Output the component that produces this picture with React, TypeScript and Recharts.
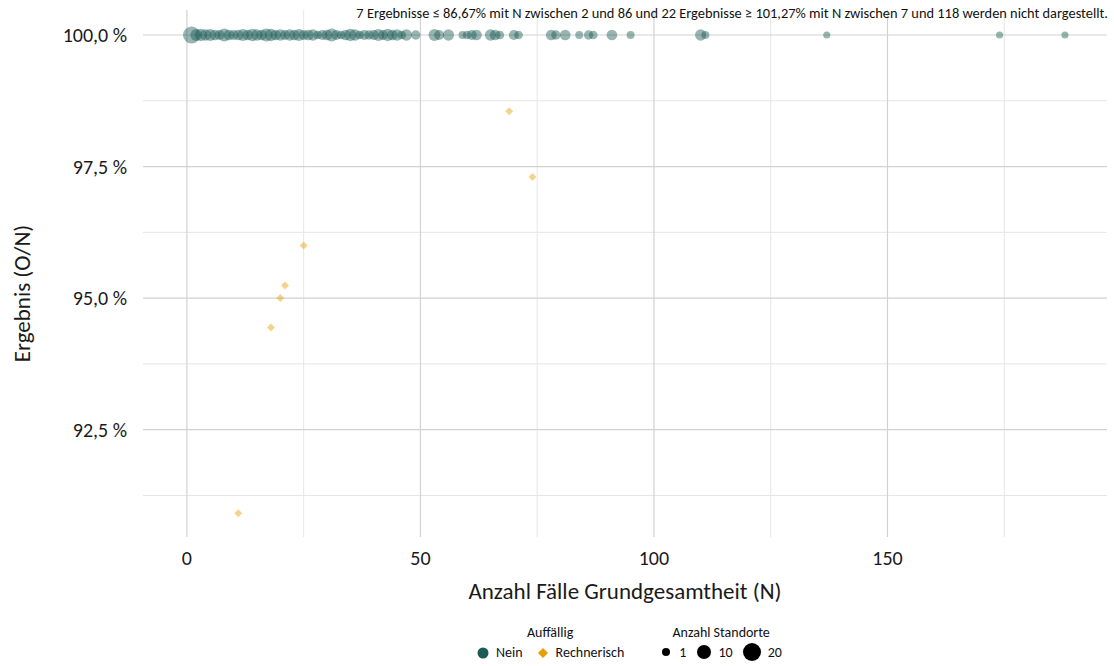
import { ScatterChart, Scatter, XAxis, YAxis, ZAxis, ReferenceLine } from 'recharts';

// Nein (nicht auffällig): N und Anzahl Standorte, alle bei 100 %
const neinN = [1, 2, 3, 4, 5, 6, 7, 8, 9, 10, 11, 12, 13, 14, 15, 16, 17, 18, 19, 20, 21, 22, 23, 24, 25, 26, 27, 28, 29, 30, 31, 32, 33, 34, 35, 36, 37, 38, 39, 40, 41, 42, 43, 44, 45, 46, 47, 49, 53, 54, 56, 59, 60, 61, 62, 65, 66, 67, 70, 71, 78, 79, 81, 84, 86, 87, 91, 95, 110, 111, 137, 174, 188];
const neinStandorte = [20, 8, 9, 7, 8, 6, 5, 10, 6, 5, 6, 8, 6, 9, 7, 6, 10, 9, 6, 7, 5, 7, 6, 8, 5, 6, 7, 3, 5, 6, 10, 5, 3, 6, 9, 7, 3, 5, 4, 5, 8, 5, 9, 6, 7, 3, 7, 4, 8, 5, 7, 2, 3, 5, 6, 7, 6, 3, 5, 3, 6, 4, 6, 2, 4, 3, 6, 2, 7, 2, 1, 1, 1];

// Rechnerisch auffällig
const rechnN = [11, 18, 20, 21, 25, 69, 74];
const rechnWert = [90.91, 94.44, 95.0, 95.24, 96.0, 98.55, 97.3];

const xMajor = [0, 50, 100, 150];
const xMinor = [25, 75, 125, 175];
const yMajor = [92.5, 95, 97.5, 100];
const yMinor = [91.25, 93.75, 96.25, 98.75];

const neinData = neinN.map((n, i) => ({ n, wert: 100, z: neinStandorte[i] }));
const rechnData = rechnN.map((n, i) => ({ n, wert: rechnWert[i] }));

const FONT = 'Carlito, Lato, "Open Sans", sans-serif';
const NEIN = '#1b5a55';
const RECHN = '#E69F00';

const fmtY = (v: number) => (yMajor.includes(v) ? `${v.toFixed(1).replace('.', ',')} %` : '');
const fmtX = (v: number) => (xMajor.includes(v) ? String(v) : '');

const Diamond = (props: any) => {
  const { cx, cy } = props;
  const h = 4;
  return <polygon points={`${cx},${cy - h} ${cx + h},${cy} ${cx},${cy + h} ${cx - h},${cy}`} fill={RECHN} fillOpacity={0.45} />;
};

export default function App() {
  return (
    <div style={{ position: 'absolute', left: 0, top: 0, width: 1114, height: 666, background: '#fff', fontFamily: FONT }}>
      <ScatterChart width={1114} height={666} margin={{ top: 10, right: 7, left: 0, bottom: 69 }}>
        {xMinor.map((v) => (
          <ReferenceLine key={'xm' + v} x={v} stroke="#e6e6e6" strokeWidth={1} />
        ))}
        {yMinor.map((v) => (
          <ReferenceLine key={'ym' + v} y={v} stroke="#e6e6e6" strokeWidth={1} />
        ))}
        {xMajor.map((v) => (
          <ReferenceLine key={'xM' + v} x={v} stroke="#d2d2d2" strokeWidth={1.2} />
        ))}
        {yMajor.map((v) => (
          <ReferenceLine key={'yM' + v} y={v} stroke="#d2d2d2" strokeWidth={1.2} />
        ))}
        <XAxis
          type="number"
          dataKey="n"
          domain={[-9.4, 197]}
          ticks={[...xMajor, ...xMinor].sort((a, b) => a - b)}
          tickFormatter={fmtX}
          axisLine={false}
          tickLine={false}
          height={60}
          tickMargin={8}
          tick={{ fontSize: 20, fill: '#1a1a1a', fontFamily: FONT }}
          allowDataOverflow
          label={{ value: 'Anzahl Fälle Grundgesamtheit (N)', position: 'insideBottom', offset: -2, fontSize: 23, fill: '#1a1a1a', fontFamily: FONT }}
        />
        <YAxis
          type="number"
          dataKey="wert"
          domain={[90.46, 100.475]}
          ticks={[...yMinor, ...yMajor].sort((a, b) => a - b)}
          tickFormatter={fmtY}
          axisLine={false}
          tickLine={false}
          width={143}
          tickMargin={10}
          tick={{ fontSize: 20, fill: '#1a1a1a', fontFamily: FONT }}
          allowDataOverflow
          label={{ value: 'Ergebnis (O/N)', angle: -90, position: 'insideLeft', offset: 22, dy: 20, fontSize: 23, fill: '#1a1a1a', fontFamily: FONT, style: { textAnchor: 'middle' } }}
        />
        <ZAxis type="number" dataKey="z" zAxisId="size" domain={[1, 20]} range={[40, 230]} />
        <ZAxis type="number" zAxisId="fix" range={[50, 50]} />
        <Scatter data={neinData} zAxisId="size" shape="circle" fill={NEIN} fillOpacity={0.45} isAnimationActive={false} />
        <Scatter data={rechnData} zAxisId="fix" shape={Diamond} fill={RECHN} isAnimationActive={false} />
      </ScatterChart>

      <div style={{ position: 'absolute', right: 6, top: 4, fontSize: 14.4, color: '#111', whiteSpace: 'nowrap' }}>
        7 Ergebnisse ≤ 86,67% mit N zwischen 2 und 86 und 22 Ergebnisse ≥ 101,27% mit N zwischen 7 und 118 werden nicht dargestellt.
      </div>

      <div style={{ position: 'absolute', left: 476, top: 624, fontSize: 14, color: '#111', display: 'flex', gap: 36 }}>
        <div style={{ display: 'flex', flexDirection: 'column', alignItems: 'center' }}>
          <div>Auffällig</div>
          <div style={{ display: 'flex', alignItems: 'center', marginTop: 3 }}>
            <svg width={14} height={14}><circle cx={7} cy={7} r={5.5} fill={NEIN} /></svg>
            <span style={{ margin: '0 13px 0 6px' }}>Nein</span>
            <svg width={14} height={14}><polygon points="7,2 12,7 7,12 2,7" fill={RECHN} /></svg>
            <span style={{ marginLeft: 6 }}>Rechnerisch</span>
          </div>
        </div>
        <div style={{ display: 'flex', flexDirection: 'column', alignItems: 'center' }}>
          <div>Anzahl Standorte</div>
          <div style={{ display: 'flex', alignItems: 'center', marginTop: 1 }}>
            <svg width={12} height={18}><circle cx={6} cy={9} r={4} fill="#000" /></svg>
            <span style={{ margin: '0 10px 0 7px' }}>1</span>
            <svg width={16} height={18}><circle cx={8} cy={9} r={7} fill="#000" /></svg>
            <span style={{ margin: '0 9px 0 6px' }}>10</span>
            <svg width={20} height={20}><circle cx={10} cy={10} r={9} fill="#000" /></svg>
            <span style={{ marginLeft: 6 }}>20</span>
          </div>
        </div>
      </div>
    </div>
  );
}
